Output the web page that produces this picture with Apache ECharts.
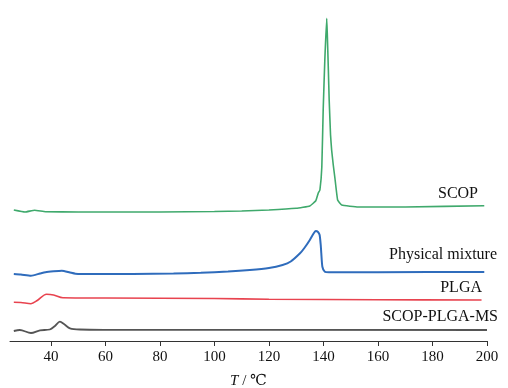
<!DOCTYPE html>
<html>
<head>
<meta charset="utf-8">
<style>
  html, body { margin: 0; padding: 0; background: #fff; }
  #chart { width: 508px; height: 388px; }
</style>
<script src="https://cdn.jsdelivr.net/npm/echarts@6/dist/echarts.min.js"></script>
</head>
<body>
<div id="chart"></div>
<script>
// temperature (°C) and relative heat flow (arbitrary units, offset per curve)
const scopT = [26.4, 30.5, 34, 38, 50, 80, 100, 110, 120, 130, 135, 137.2, 138.1, 138.7, 139.4, 139.9, 140.5, 141.2, 141.4, 141.8, 142.1, 142.6, 143, 143.6, 144.2, 145.2, 146.7, 152.7, 170, 199];
const scopV = [131, 129, 130.7, 129.3, 129, 129, 129.5, 130, 131, 132.7, 135, 140.3, 148, 151, 174, 231, 281, 322.7, 308, 271, 241, 206, 191, 176, 163, 141, 136, 134, 134, 135.3];

const mixT = [26.4, 29, 32.7, 36, 38, 41, 44, 47, 49, 55, 70, 85, 95, 105, 113, 120, 125, 128, 131.4, 133, 135, 136.5, 137.2, 138, 138.6, 139, 139.2, 139.6, 140.5, 142, 160, 199];
const mixV = [67, 66.5, 65.3, 67.5, 68.8, 69.7, 70.3, 68.5, 67.3, 67, 67, 67.4, 68.3, 69.5, 71, 73, 76, 79.5, 87.7, 93, 101, 108, 110, 109, 106, 96, 88, 74.3, 69.3, 68.8, 68.8, 69];

const plgaT = [26.4, 29, 32.7, 35, 38.4, 41, 44.4, 60, 100, 120, 160, 198];
const plgaV = [38.7, 38.5, 37.3, 40.5, 46.7, 46, 43.3, 43, 42.5, 41.7, 41.3, 41];

const msT = [26.4, 28.6, 32.7, 36, 39.6, 41.5, 43.3, 45, 47, 50.6, 60, 200];
const msV = [10, 11, 8, 10.7, 11.5, 15, 19.3, 16.5, 12.7, 11.5, 11.2, 11];

const tickValues = [40, 60, 80, 100, 120, 140, 160, 180, 200];

const serif = '"Liberation Serif", "Times New Roman", "DejaVu Serif", serif';

function pairs(xs, ys) {
  return xs.map((x, i) => [x, ys[i]]);
}

const chart = echarts.init(document.getElementById("chart"));
chart.setOption({
  animation: false,
  backgroundColor: "#fff",
  grid: { left: 10, right: 21, top: 0, bottom: 47, containLabel: false, outerBoundsMode: "none" },
  xAxis: {
    type: "value",
    min: 25,
    max: 200,
    name: "{i|T} / ℃",
    nameLocation: "middle",
    nameGap: 33,
    nameTextStyle: {
      fontFamily: serif,
      fontSize: 15,
      color: "#111",
      rich: { i: { fontFamily: serif, fontSize: 15, fontStyle: "italic", color: "#111" } },
    },
    axisLine: { lineStyle: { color: "#333", width: 1 } },
    axisTick: { show: true, length: 5, customValues: tickValues, lineStyle: { color: "#333" } },
    axisLabel: { customValues: tickValues, fontFamily: serif, fontSize: 15, color: "#111", margin: 9 },
    splitLine: { show: false },
  },
  yAxis: {
    type: "value",
    min: 0,
    max: 341,
    show: false,
    splitLine: { show: false },
  },
  series: [
    {
      name: "SCOP",
      type: "line",
      data: pairs(scopT, scopV),
      showSymbol: false,
      smooth: 0.1,
      lineStyle: { color: "#3fa96c", width: 1.6 },
    },
    {
      name: "Physical mixture",
      type: "line",
      data: pairs(mixT, mixV),
      showSymbol: false,
      smooth: 0.2,
      lineStyle: { color: "#2f6cbc", width: 2 },
    },
    {
      name: "PLGA",
      type: "line",
      data: pairs(plgaT, plgaV),
      showSymbol: false,
      smooth: 0.3,
      lineStyle: { color: "#e8434f", width: 1.6 },
    },
    {
      name: "SCOP-PLGA-MS",
      type: "line",
      data: pairs(msT, msV),
      showSymbol: false,
      smooth: 0.3,
      lineStyle: { color: "#555", width: 1.8 },
    },
  ],
  graphic: [
    { type: "text", right: 30, top: 186, style: { text: "SCOP", font: "16px " + serif, fill: "#111" } },
    { type: "text", right: 11, top: 247, style: { text: "Physical mixture", font: "16px " + serif, fill: "#111" } },
    { type: "text", right: 26, top: 280, style: { text: "PLGA", font: "16px " + serif, fill: "#111" } },
    { type: "text", right: 10, top: 309, style: { text: "SCOP-PLGA-MS", font: "16px " + serif, fill: "#111" } },
  ],
});
</script>
</body>
</html>
